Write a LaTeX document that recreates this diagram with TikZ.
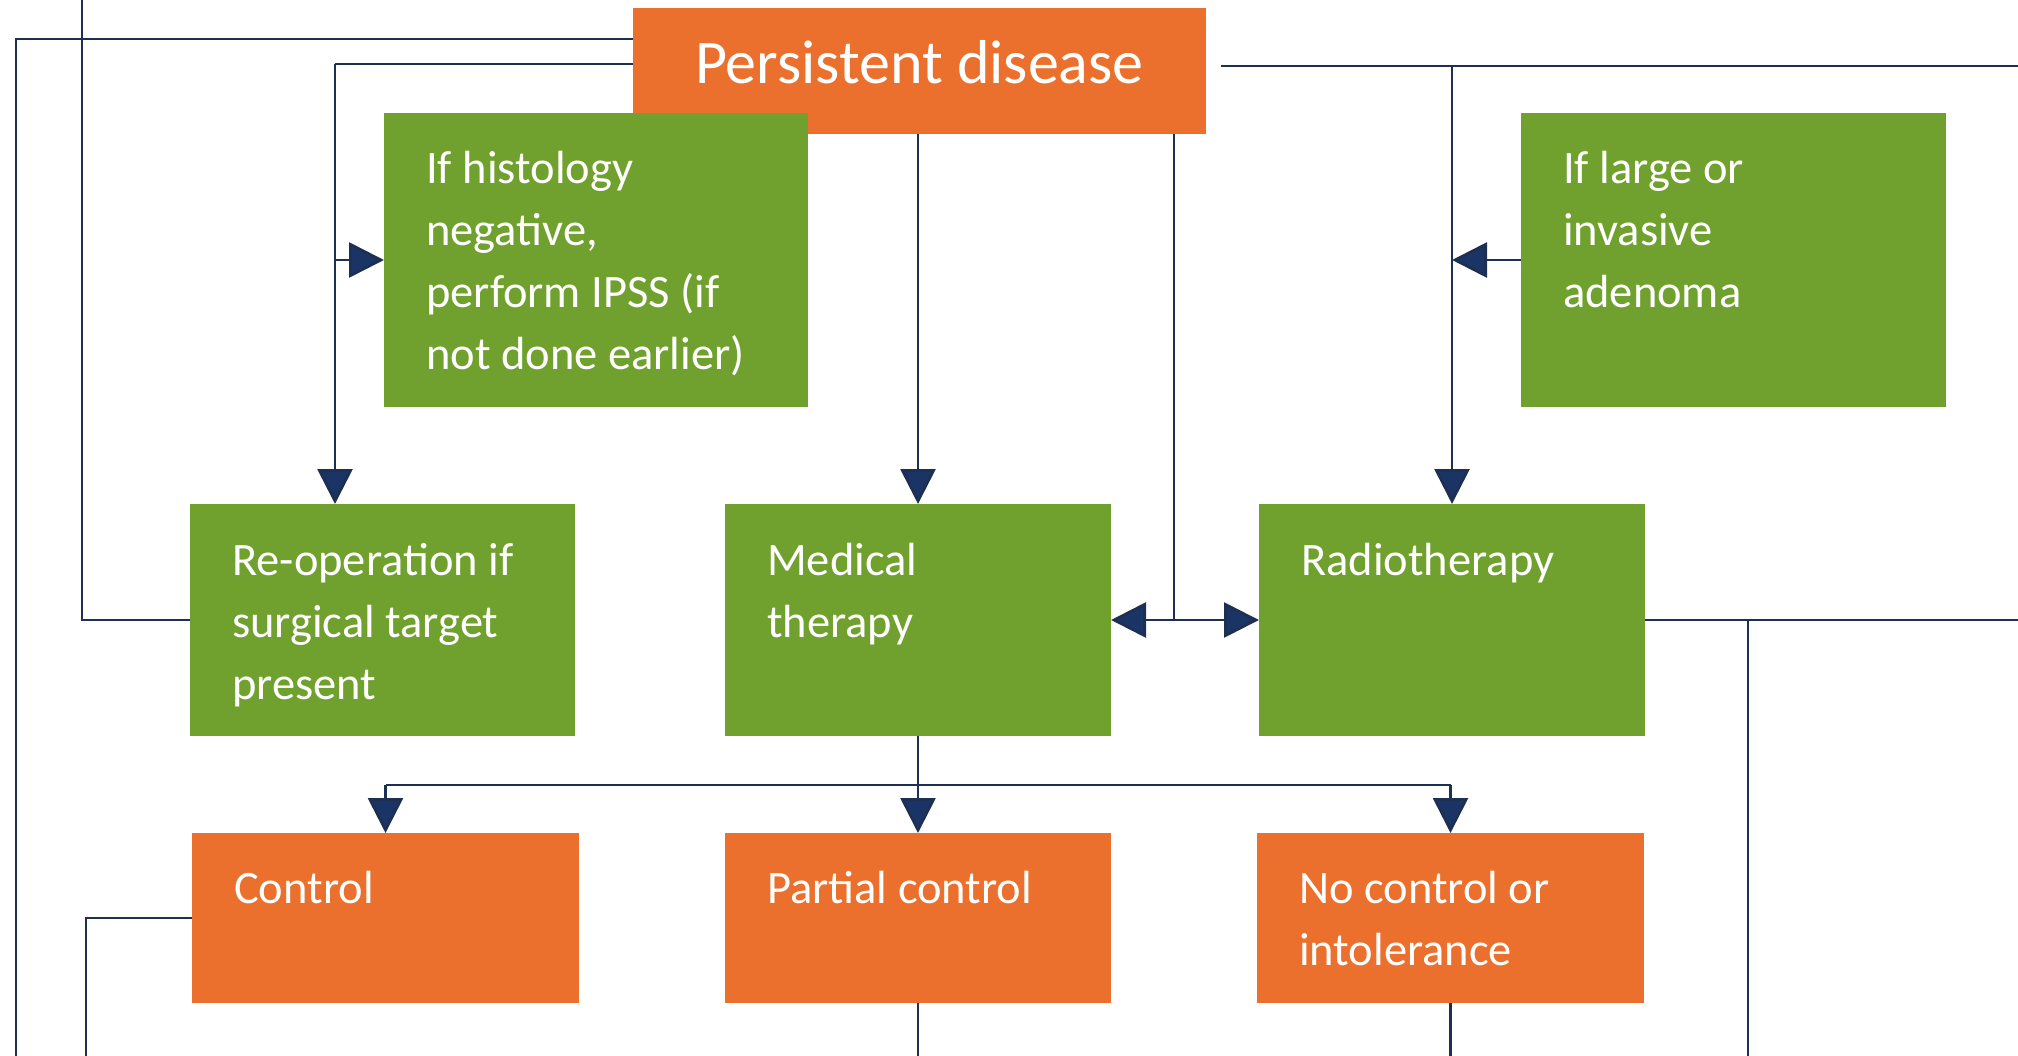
\documentclass[tikz,border=0pt]{standalone}
\usepackage{fontspec}
\setmainfont{Carlito}
\usetikzlibrary{arrows.meta,calc}
\definecolor{boxgreen}{RGB}{112,160,45}
\definecolor{boxorange}{RGB}{236,112,45}
\definecolor{flowline}{RGB}{30,48,82}
\definecolor{tipfill}{RGB}{26,52,102}
\begin{document}
\begin{tikzpicture}[x=1pt,y=-1pt,
  panel/.style={rectangle,inner sep=0pt,outer sep=0pt,anchor=north west},
  greenbox/.style={panel,fill=boxgreen},
  orangebox/.style={panel,fill=boxorange},
  boxtext/.style={anchor=base west,inner sep=0pt,text=white,align=left,
    font=\fontsize{46.5}{62}\selectfont},
  flow/.style={draw=flowline,line width=2.8pt},
  arr/.style={flow,-{Triangle[length=35pt,width=35pt,fill=tipfill]}}]

\useasboundingbox[fill=white] (0,0) rectangle (2018,1056);

% boxes
\node[orangebox,minimum width=573pt,minimum height=126pt] (pd) at (633,8) {};
\node[greenbox,minimum width=424pt,minimum height=294pt] (hist) at (384,113) {};
\node[greenbox,minimum width=425pt,minimum height=294pt] (large) at (1521,113) {};
\node[greenbox,minimum width=385pt,minimum height=232pt] (reop) at (190,504) {};
\node[greenbox,minimum width=386pt,minimum height=232pt] (med) at (725,504) {};
\node[greenbox,minimum width=386pt,minimum height=232pt] (radio) at (1259,504) {};
\node[orangebox,minimum width=387pt,minimum height=170pt] (ctrl) at (192,833) {};
\node[orangebox,minimum width=386pt,minimum height=170pt] (part) at (725,833) {};
\node[orangebox,minimum width=387pt,minimum height=170pt] (noc) at (1257,833) {};

% box texts (anchored on the baseline of the last line; lines are 62pt apart)
\node[anchor=base,inner sep=0pt,text=white,font=\fontsize{62}{70}\selectfont]
  (pdtext) at ($(pd.north)+(0,76)$) {Persistent disease};
\node[boxtext] (histtext) at ($(hist.north west)+(42,257)$)
  {If histology\\negative,\\perform IPSS (if\\not done earlier)};
\node[boxtext] (largetext) at ($(large.north west)+(42,195)$)
  {If large or\\invasive\\adenoma};
\node[boxtext] (reoptext) at ($(reop.north west)+(42,195)$)
  {Re-operation if\\surgical target\\present};
\node[boxtext] (medtext) at ($(med.north west)+(42,133)$) {Medical\\therapy};
\node[boxtext] (radiotext) at ($(radio.north west)+(42,71)$) {Radiotherapy};
\node[boxtext] (ctrltext) at ($(ctrl.north west)+(42,70)$) {Control};
\node[boxtext] (parttext) at ($(part.north west)+(42,70)$) {Partial control};
\node[boxtext] (noctext) at ($(noc.north west)+(42,132)$) {No control or\\intolerance};

% free ends and junctions
\coordinate (outerL) at (16,1056);
\coordinate (topA) at (82,0);
\coordinate (jx) at (335,64);
\coordinate (jy) at (1174,620);
\coordinate (r1) at (1221,66);
\coordinate (r2) at (2018,66);
\coordinate (re) at (2018,620);
\coordinate (bx) at (1748,1056);
\coordinate (bus) at (0,785);
\coordinate (cb) at (86,1056);
\coordinate (bottom) at (0,1056);

% connectors from the top
\draw[flow] ($(pd.north west)+(0,31)$) -| (outerL);
\draw[flow] (topA) |- (reop.west);
\draw[flow] ($(pd.north west)+(0,56)$) -- (jx);
\draw[arr] (jx) -- (jx |- reop.north);
\draw[arr] (jx |- hist.west) -- (hist.west);
\draw[arr] (med.north |- pd.south) -- (med.north);
\draw[flow] (pd.south -| jy) -- (jy);
\draw[arr] (jy) -- (med.east);
\draw[arr] (jy) -- (radio.west);
\draw[flow] (r1) -- (r2);
\draw[arr] (radio.north |- r1) -- (radio.north);
\draw[arr] (large.west) -- (large.west -| radio.north);

% connectors below
\draw[flow] (radio.east) -- (re);
\draw[flow] (radio.east -| bx) -- (bx);
\draw[flow] (med.south) -- (med.south |- bus);
\draw[flow] (ctrl.north |- bus) -- (noc.north |- bus);
\draw[arr] (ctrl.north |- bus) -- (ctrl.north);
\draw[arr] (med.south |- bus) -- (part.north);
\draw[arr] (noc.north |- bus) -- (noc.north);
\draw[flow] (ctrl.west) -| (cb);
\draw[flow] (part.south) -- (part.south |- bottom);
\draw[flow] (noc.south) -- (noc.south |- bottom);
\end{tikzpicture}
\end{document}
